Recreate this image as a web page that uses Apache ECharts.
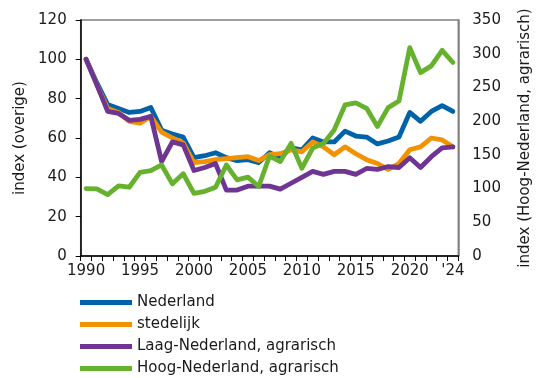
<!DOCTYPE html>
<html>
<head>
<meta charset="utf-8">
<script src="https://cdn.jsdelivr.net/npm/echarts@6/dist/echarts.min.js"></script>
<style>html,body{margin:0;padding:0;background:#fff}#c{width:543px;height:378px}</style>
</head>
<body>
<div id="c"></div>
<script>
var years = [];
for (var y = 1990; y <= 2024; y++) years.push(String(y));

var nederland = [100, 88, 77, 75, 73, 73.5, 75.5, 64, 62, 60.5, 50, 51, 52.5, 50, 48.5, 49, 47.5, 52.5, 50, 55, 54, 60, 58, 58, 63.5, 61, 60.5, 57, 58.5, 60.5, 73, 68.5, 73.5, 76.5, 73.5];
var stedelijk = [100, 87, 75, 73, 68.5, 67.5, 71, 63, 60, 57.5, 47.5, 48, 49, 49.5, 50, 50.5, 48.5, 51.5, 52, 54, 53, 58, 55.5, 51.5, 55.5, 52, 49, 47, 44, 47, 54, 55.5, 60, 59, 55.5];
var laag = [100, 87, 73.5, 72.5, 69, 69.5, 71, 48, 58, 56.5, 43.5, 45, 47, 33.5, 33.5, 35.5, 35.5, 35.5, 34, 37, 40, 43, 41.5, 43, 43, 41.5, 44.5, 44, 45.5, 45, 50, 45, 50.5, 55, 55.5];
var hoog = [100, 99.5, 91, 104, 102, 124, 126.5, 135, 107, 122, 93, 96, 102, 135, 113, 117, 103, 148, 140, 167, 130, 160, 167, 187, 224, 227, 219, 192, 220, 230, 309, 272, 282, 305, 287];

var names = ['Nederland', 'stedelijk', 'Laag-Nederland, agrarisch', 'Hoog-Nederland, agrarisch'];
var colors = ['#0062a8', '#f39200', '#6e3592', '#66b22e'];
var font = 'DejaVu Sans';
var txt = '#1a1a1a';

function mk(i, data, yIdx) {
  return {
    name: names[i], type: 'line', data: data, yAxisIndex: yIdx,
    showSymbol: false, symbol: 'none',
    lineStyle: { width: 4.8, color: colors[i], cap: 'round', join: 'round' },
    itemStyle: { color: colors[i] }
  };
}

var chart = echarts.init(document.getElementById('c'), null, { renderer: 'canvas' });
chart.setOption({
  animation: false,
  textStyle: { fontFamily: font },
  grid: { left: 80.7, right: 84.7, top: 20, bottom: 122, show: true, borderColor: '#808080', borderWidth: 1.5, backgroundColor: 'transparent' },
  legend: {
    orient: 'vertical', left: 80, top: 295, padding: 0, itemGap: 7, itemWidth: 52, itemHeight: 5,
    textStyle: { fontFamily: font, fontSize: 15, color: txt },
    data: names.map(function (n, i) { return { name: n, icon: 'path://M0,0 L52,0 L52,5 L0,5 Z', itemStyle: { color: colors[i] } }; })
  },
  xAxis: {
    type: 'category', data: years, boundaryGap: true,
    axisLine: { lineStyle: { color: '#000', width: 1.5 } },
    axisTick: { show: true, interval: 0, length: 5, lineStyle: { color: '#000' } },
    axisLabel: {
      fontFamily: font, fontSize: 15, color: txt, margin: 8,
      interval: function (idx) { return idx % 5 === 0 || idx === 34; },
      formatter: function (v) { return v === '2024' ? "'24" : v; }
    }
  },
  yAxis: [
    {
      type: 'value', min: 0, max: 120, interval: 20, position: 'left',
      name: 'index (overige)', nameLocation: 'middle', nameGap: 53, nameRotate: 90,
      nameTextStyle: { fontFamily: font, fontSize: 15, color: txt },
      axisLine: { show: true, lineStyle: { color: '#000', width: 1.5 } },
      axisTick: { show: true, length: 5, lineStyle: { color: '#000' } },
      axisLabel: { fontFamily: font, fontSize: 15, color: txt, margin: 14 },
      splitLine: { show: false }
    },
    {
      type: 'value', min: 0, max: 350, interval: 50, position: 'right',
      name: 'index (Hoog-Nederland, agrarisch)', nameLocation: 'middle', nameGap: 59, nameRotate: 90,
      nameTextStyle: { fontFamily: font, fontSize: 15, color: txt },
      axisLine: { show: true, lineStyle: { color: '#808080', width: 1.5 } },
      axisTick: { show: false },
      axisLabel: { fontFamily: font, fontSize: 15, color: txt, margin: 14 },
      splitLine: { show: false }
    }
  ],
  series: [
    mk(0, nederland, 0),
    mk(1, stedelijk, 0),
    mk(2, laag, 0),
    mk(3, hoog, 1)
  ]
});
</script>
</body>
</html>
